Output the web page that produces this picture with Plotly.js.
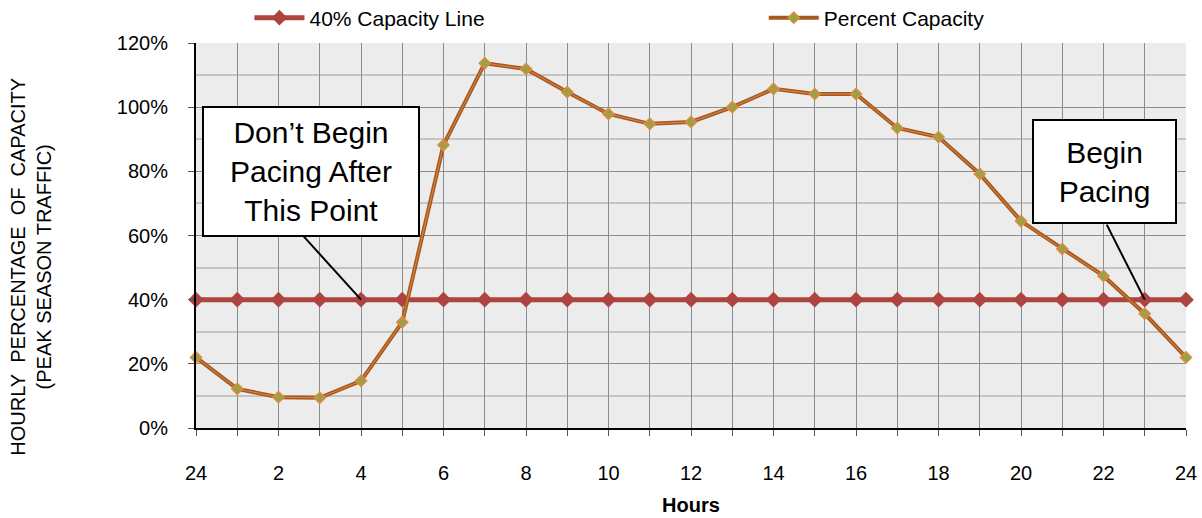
<!DOCTYPE html>
<html>
<head>
<meta charset="utf-8">
<script src="https://cdn.plot.ly/plotly-3.0.1.min.js"></script>
<style>
html,body{margin:0;padding:0;background:#fff;}
#chart{width:1202px;height:518px;}
</style>
</head>
<body>
<div id="chart"></div>
<script>
// Data
var hours = [0,1,2,3,4,5,6,7,8,9,10,11,12,13,14,15,16,17,18,19,20,21,22,23,24];
var hourLabels = ['24','','2','','4','','6','','8','','10','','12','','14','','16','','18','','20','','22','','24'];
var percentCapacity = [22,12.2,9.6,9.4,14.7,33,88.2,113.7,111.9,104.7,97.9,94.8,95.4,100,105.7,104.1,104.1,93.5,90.7,79.2,64.5,55.8,47.4,35.6,22];
var capacityLine = [40,40,40,40,40,40,40,40,40,40,40,40,40,40,40,40,40,40,40,40,40,40,40,40,40];
var yTickVals = [0,20,40,60,80,100,120];
var yTickText = ['0%','20%','40%','60%','80%','100%','120%'];
var seriesNames = ['40% Capacity Line','Percent Capacity'];
var note1 = {hour:4, value:40, text:'Don\u2019t Begin<br>Pacing After<br>This Point'};
var note2 = {hour:23, value:40, text:'Begin<br>Pacing'};

var font = 'Arial, "Liberation Sans", sans-serif';

var traces = [
  {
    x: hours, y: capacityLine, name: seriesNames[0], type: 'scatter', mode: 'lines+markers',
    line: {color: '#ad4440', width: 5},
    marker: {symbol: 'diamond', size: 12, color: '#ad4440'},
    cliponaxis: false, legend: 'legend'
  },
  {
    x: hours, y: percentCapacity, name: seriesNames[1], type: 'scatter', mode: 'lines+markers',
    line: {color: '#a8581c', width: 4},
    marker: {symbol: 'diamond', size: 8.5, color: '#8aa84a', line: {color: '#e3893a', width: 1.5}},
    cliponaxis: false, legend: 'legend2'
  },
  {
    x: hours, y: percentCapacity, name: 'inner', type: 'scatter', mode: 'lines',
    line: {color: '#d58a4a', width: 1}, showlegend: false, hoverinfo: 'skip'
  }
];

var legendBase = {
  orientation: 'h', xanchor: 'left', yanchor: 'middle', y: 1.065,
  itemwidth: 50, font: {family: font, size: 21, color: '#000'}, bgcolor: 'rgba(0,0,0,0)'
};

var layout = {
  width: 1202, height: 518,
  margin: {l: 196, r: 16, t: 43, b: 90, autoexpand: false},
  paper_bgcolor: '#ffffff',
  plot_bgcolor: '#ececec',
  font: {family: font, size: 20, color: '#000'},
  showlegend: true,
  legend: Object.assign({}, legendBase, {x: 0.054}),
  legend2: Object.assign({}, legendBase, {x: 0.5735}),
  xaxis: {
    range: [0, 24], tickvals: hours, ticktext: hourLabels, tickmode: 'array',
    showgrid: true, gridcolor: '#8c8c8c', gridwidth: 1,
    zeroline: false, showline: true, linecolor: '#000', linewidth: 2,
    ticks: 'outside', ticklen: 6, tickcolor: '#555', tickwidth: 1,
    ticklabelstandoff: 20, tickfont: {family: font, size: 20}
  },
  yaxis: {
    range: [0, 120], tickvals: yTickVals, ticktext: yTickText, tickmode: 'array',
    showgrid: true, gridcolor: '#8c8c8c', gridwidth: 1,
    minor: {tickvals: [10,30,50,70,90,110], showgrid: true, gridcolor: '#c4c4c4', gridwidth: 2, ticks: ''},
    zeroline: false, showline: true, linecolor: '#000', linewidth: 2,
    ticks: 'outside', ticklen: 6, tickcolor: '#555', tickwidth: 1,
    ticklabelstandoff: 16, tickfont: {family: font, size: 20}
  },
  annotations: [
    {
      x: note1.hour, y: note1.value, xref: 'x', yref: 'y', text: note1.text,
      showarrow: true, arrowcolor: 'rgba(0,0,0,0)', arrowwidth: 0.1, arrowhead: 0,
      ax: -50, ay: -128, width: 210, height: 123, borderpad: 2,
      bgcolor: '#ffffff', bordercolor: '#000', borderwidth: 2,
      font: {family: font, size: 30, color: '#000'}, align: 'center'
    },
    {
      x: note2.hour, y: note2.value, xref: 'x', yref: 'y', text: note2.text,
      showarrow: true, arrowcolor: 'rgba(0,0,0,0)', arrowwidth: 0.1, arrowhead: 0,
      ax: -40, ay: -128, width: 137, height: 97, borderpad: 2,
      bgcolor: '#ffffff', bordercolor: '#000', borderwidth: 2,
      font: {family: font, size: 30, color: '#000'}, align: 'center'
    },
    {
      xref: 'paper', yref: 'paper', x: -0.167, y: 0.418, xanchor: 'center', yanchor: 'middle',
      text: 'HOURLY\u00a0\u00a0PERCENTAGE\u00a0\u00a0OF\u00a0\u00a0CAPACITY<br>(PEAK SEASON TRAFFIC)',
      textangle: -90, showarrow: false, font: {family: font, size: 20, color: '#000'}
    },
    {
      xref: 'paper', yref: 'paper', x: 0.5, y: -0.2, xanchor: 'center', yanchor: 'middle',
      text: '<b>Hours</b>', showarrow: false, font: {family: font, size: 20, color: '#000'}
    }
  ],
  shapes: [
    {type: 'line', xref: 'x', yref: 'y', xsizemode: 'pixel', ysizemode: 'pixel',
     xanchor: note1.hour, yanchor: note1.value, x0: 0, y0: 0, x1: -58, y1: 64,
     line: {color: '#000', width: 2}, layer: 'above'},
    {type: 'line', xref: 'x', yref: 'y', xsizemode: 'pixel', ysizemode: 'pixel',
     xanchor: note2.hour, yanchor: note2.value, x0: 0, y0: 0, x1: -38, y1: 75,
     line: {color: '#000', width: 2}, layer: 'above'}
  ]
};

Plotly.newPlot('chart', traces, layout, {displayModeBar: false, staticPlot: true});
</script>
</body>
</html>
